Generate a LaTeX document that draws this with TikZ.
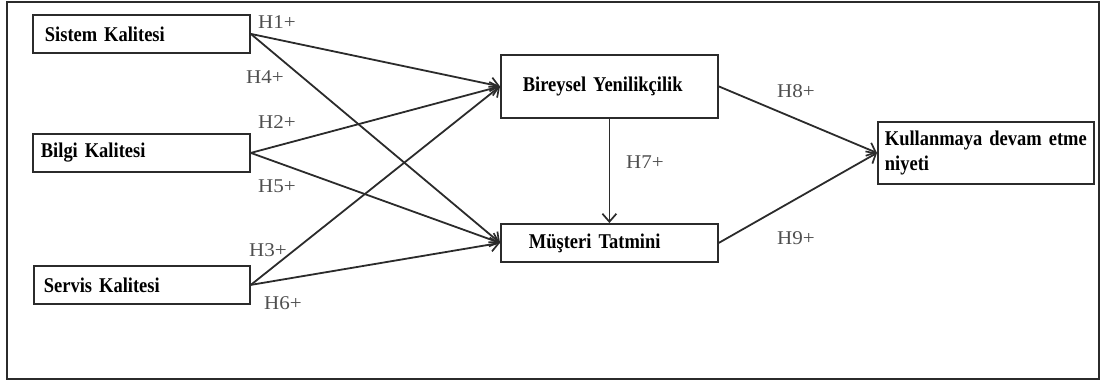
\documentclass[tikz,border=0pt]{standalone}
\usepackage{fontspec}
\setmainfont{Liberation Serif}
\newfontfamily\boxfont[FakeStretch=0.88]{Liberation Serif}
\newfontfamily\hypfont[FakeStretch=1.08]{Liberation Serif}
\usetikzlibrary{arrows.meta}
\definecolor{edgecol}{HTML}{2B2B2B}
\definecolor{hypcol}{HTML}{4F4F4F}
% construct names: bold, slightly condensed, tight word spacing
\newcommand\constructfont{\boxfont\bfseries\fontsize{21}{25}\selectfont
  \spaceskip 3.4pt plus 1pt minus 0.5pt\relax}

\begin{document}
\begin{tikzpicture}[x=1pt,y=-1pt,
  box/.style={draw=edgecol, line width=1.8pt, rectangle, anchor=north west,
    font=\constructfont, align=left, inner ysep=0pt},
  link/.style={draw=edgecol, line width=1.8pt,
    -{Straight Barb[length=8pt,width=14pt,line width=1.7pt]}},
  hyp/.style={text=hypcol, font=\hypfont\fontsize{19.5}{21}\selectfont, inner sep=0pt}]

  % canvas and outer frame
  \useasboundingbox (0,0) rectangle (1105,383);
  \draw[edgecol, line width=2pt] (7,2) rectangle (1099,379);

  % constructs
  \node[box, minimum width=217pt, minimum height=38pt, inner xsep=12pt, text width=193pt]
    (sq) at (32,14) {Sistem Kalitesi};
  \node[box, minimum width=217pt, minimum height=38pt, inner xsep=8pt, text width=201pt]
    (iq) at (32,133) {Bilgi Kalitesi};
  \node[box, minimum width=216pt, minimum height=38pt, inner xsep=10pt, text width=196pt]
    (svq) at (33,265) {Servis Kalitesi};
  \node[box, minimum width=217pt, minimum height=63pt, inner xsep=22pt, text width=173pt]
    (inn) at (500,54) {Bireysel Yenilikçilik};
  \node[box, minimum width=217pt, minimum height=38pt, inner xsep=28pt, text width=161pt]
    (sat) at (500,223) {Müşteri Tatmini};
  \node[box, minimum width=216pt, minimum height=62pt, inner xsep=7pt, text width=202pt]
    (ci) at (877,121) {Kullanmaya devam etme\\niyeti};

  % hypothesised paths
  \draw[link] (sq.east) -- (inn.west);
  \draw[link] (sq.east) -- (sat.west);
  \draw[link] (iq.east) -- (inn.west);
  \draw[link] (iq.east) -- (sat.west);
  \draw[link] (svq.east) -- (inn.west);
  \draw[link] (svq.east) -- (sat.west);
  \draw[link] (inn.south) -- (sat.north);
  \draw[link] (inn.east) -- (ci.west);
  \draw[link] (sat.east) -- (ci.west);

  % hypothesis labels
  \node[hyp] (h1) at (277,22) {H1+};
  \node[hyp] (h4) at (265,77) {H4+};
  \node[hyp] (h2) at (277,122) {H2+};
  \node[hyp] (h5) at (277,186) {H5+};
  \node[hyp] (h3) at (268,250) {H3+};
  \node[hyp] (h6) at (283,303) {H6+};
  \node[hyp] (h7) at (645,162) {H7+};
  \node[hyp] (h8) at (796,91) {H8+};
  \node[hyp] (h9) at (796,238) {H9+};
\end{tikzpicture}
\end{document}
